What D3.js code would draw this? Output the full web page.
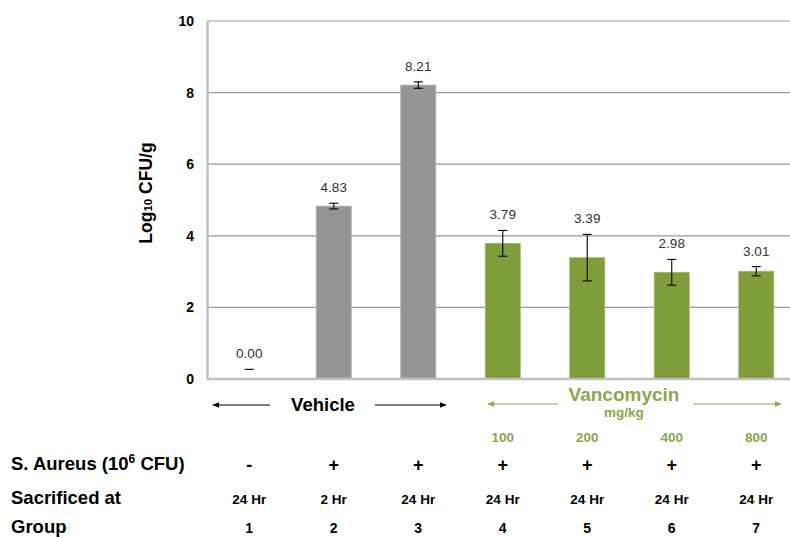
<!DOCTYPE html>
<html>
<head>
<meta charset="utf-8">
<script src="https://cdn.jsdelivr.net/npm/d3@7"></script>
<style>
  body { margin: 0; background: #fff; }
  svg { display: block; font-family: "Liberation Sans", Arial, sans-serif; }
</style>
</head>
<body>
<svg id="chart" width="790" height="538"></svg>
<script>
const groups = ["1", "2", "3", "4", "5", "6", "7"];
const means = [0.00, 4.83, 8.21, 3.79, 3.39, 2.98, 3.01];
const errors = [0.27, 0.08, 0.09, 0.36, 0.65, 0.36, 0.13];
const barTypes = ["vehicle", "vehicle", "vehicle", "vanco", "vanco", "vanco", "vanco"];
const doses = ["", "", "", "100", "200", "400", "800"];
const aureus = ["-", "+", "+", "+", "+", "+", "+"];
const sacrificed = ["24 Hr", "2 Hr", "24 Hr", "24 Hr", "24 Hr", "24 Hr", "24 Hr"];
const yTicks = [0, 2, 4, 6, 8, 10];

(function () {
const svg = d3.select("#chart");
const W = 790;
const pLeft = 207, pRight = 798.5, pTop = 21, pBottom = 379;

const x = d3.scaleBand().domain(groups).range([pLeft, pRight]).paddingInner(0.585).paddingOuter(0.2925);
const y = d3.scaleLinear().domain([0, 10]).range([pBottom, pTop]);

const colors = { vehicle: "#959595", vanco: "#7f9d3b" };
const green = "#8aa84c";

// gridlines
svg.append("g").selectAll("line").data(yTicks.filter(d => d > 0)).join("line")
  .attr("x1", pLeft).attr("x2", W).attr("y1", d => y(d)).attr("y2", d => y(d))
  .attr("stroke", "#9a9a9a").attr("stroke-width", 1.2);

// y axis
const yAxis = svg.append("g").attr("transform", `translate(${pLeft},0)`)
  .call(d3.axisLeft(y).tickValues(yTicks).tickSize(0).tickPadding(13).tickFormat(d3.format("d")));
yAxis.select(".domain").attr("stroke", "#c0c0c0").attr("stroke-width", 2.5);
yAxis.selectAll("text").attr("font-size", 14).attr("font-weight", "bold").attr("fill", "#000")
  .attr("font-family", "'Liberation Sans', Arial, sans-serif");

// bars
svg.append("g").selectAll("rect").data(groups).join("rect")
  .attr("x", (d) => x(d))
  .attr("width", x.bandwidth())
  .attr("y", (d, i) => y(means[i]))
  .attr("height", (d, i) => y(0) - y(means[i]))
  .attr("fill", (d, i) => colors[barTypes[i]])
  .attr("stroke", (d, i) => barTypes[i] === "vehicle" ? "#b4b4b4" : "#a2bb6c")
  .attr("stroke-width", 0.8);

// x axis line
svg.append("line").attr("x1", pLeft).attr("x2", W).attr("y1", y(0)).attr("y2", y(0))
  .attr("stroke", "#c0c0c0").attr("stroke-width", 2.5);

// error bars
const eb = svg.append("g").attr("stroke", "#000").attr("stroke-width", 1.1);
groups.forEach((g, i) => {
  const cx = x(g) + x.bandwidth() / 2;
  const hi = y(means[i] + errors[i]);
  const lo = y(Math.max(0, means[i] - errors[i]));
  if (means[i] > 0) {
    eb.append("line").attr("x1", cx).attr("x2", cx).attr("y1", hi).attr("y2", lo);
    eb.append("line").attr("x1", cx - 4.5).attr("x2", cx + 4.5).attr("y1", lo).attr("y2", lo);
  }
  eb.append("line").attr("x1", cx - 4.5).attr("x2", cx + 4.5).attr("y1", hi).attr("y2", hi);
});

// value labels
svg.append("g").selectAll("text").data(groups).join("text")
  .attr("x", d => x(d) + x.bandwidth() / 2)
  .attr("y", (d, i) => y(means[i] + errors[i]) - 11)
  .attr("text-anchor", "middle").attr("font-size", 13.5).attr("fill", "#333")
  .text((d, i) => means[i].toFixed(2));

// y title
const yt = svg.append("text").attr("transform", "translate(152,193) rotate(-90)")
  .attr("text-anchor", "middle").attr("font-size", 17.5).attr("font-weight", "bold").attr("fill", "#000");
yt.append("tspan").text("Log");
yt.append("tspan").attr("font-size", 11.5).text("10");
yt.append("tspan").text(" CFU/g");

// arrow markers
const defs = svg.append("defs");
function marker(id, color) {
  defs.append("marker").attr("id", id).attr("viewBox", "0 0 10 10").attr("refX", 9).attr("refY", 5)
    .attr("markerWidth", 7).attr("markerHeight", 7).attr("markerUnits", "userSpaceOnUse").attr("orient", "auto")
    .append("path").attr("d", "M0,1 L10,5 L0,9 Z").attr("fill", color);
}
marker("arrB", "#000");
marker("arrG", green);

function arrow(x1, x2, yy, color, m) {
  svg.append("line").attr("x1", x1).attr("x2", x2).attr("y1", yy).attr("y2", yy)
    .attr("stroke", color).attr("stroke-width", 1.1).attr("marker-end", `url(#${m})`);
}
// Vehicle
arrow(270, 213, 405, "#000", "arrB");
arrow(375, 446, 405, "#000", "arrB");
svg.append("text").attr("x", 323).attr("y", 411).attr("text-anchor", "middle")
  .attr("font-size", 18.5).attr("font-weight", "bold").attr("fill", "#000").text("Vehicle");

// Vancomycin
arrow(558, 488, 404, green, "arrG");
arrow(693, 781, 404, green, "arrG");
svg.append("text").attr("x", 624).attr("y", 401).attr("text-anchor", "middle")
  .attr("font-size", 19).attr("font-weight", "bold").attr("fill", green).text("Vancomycin");
svg.append("text").attr("x", 624).attr("y", 416.5).attr("text-anchor", "middle")
  .attr("font-size", 13.5).attr("font-weight", "bold").attr("fill", green).text("mg/kg");

// doses
svg.append("g").selectAll("text").data(groups).join("text")
  .attr("x", d => x(d) + x.bandwidth() / 2).attr("y", 442)
  .attr("text-anchor", "middle").attr("font-size", 13.5).attr("font-weight", "bold").attr("fill", green)
  .text((d, i) => doses[i]);

// table rows
const rowLabelX = 11;
const rowFont = 18.5;
const r1 = svg.append("text").attr("x", rowLabelX).attr("y", 470).attr("font-size", rowFont).attr("font-weight", "bold").attr("fill", "#000");
r1.append("tspan").text("S. Aureus (10");
r1.append("tspan").attr("font-size", 12).attr("dy", -7).text("6");
r1.append("tspan").attr("dy", 7).text(" CFU)");
svg.append("text").attr("x", rowLabelX).attr("y", 504).attr("font-size", rowFont).attr("font-weight", "bold").attr("fill", "#000").text("Sacrificed at");
svg.append("text").attr("x", rowLabelX).attr("y", 533).attr("font-size", rowFont).attr("font-weight", "bold").attr("fill", "#000").text("Group");

svg.append("g").selectAll("text").data(groups).join("text")
  .attr("x", d => x(d) + x.bandwidth() / 2).attr("y", 471)
  .attr("text-anchor", "middle").attr("font-size", 18).attr("font-weight", "bold").attr("fill", "#000")
  .text((d, i) => aureus[i]);
svg.append("g").selectAll("text").data(groups).join("text")
  .attr("x", d => x(d) + x.bandwidth() / 2).attr("y", 504)
  .attr("text-anchor", "middle").attr("font-size", 13.5).attr("font-weight", "bold").attr("fill", "#000")
  .attr("font-family", "'Liberation Sans Narrow', 'Arial Narrow', sans-serif")
  .text((d, i) => sacrificed[i]);
svg.append("g").selectAll("text").data(groups).join("text")
  .attr("x", d => x(d) + x.bandwidth() / 2).attr("y", 533)
  .attr("text-anchor", "middle").attr("font-size", 14).attr("font-weight", "bold").attr("fill", "#000")
  .text(d => d);
})();
</script>
</body>
</html>
